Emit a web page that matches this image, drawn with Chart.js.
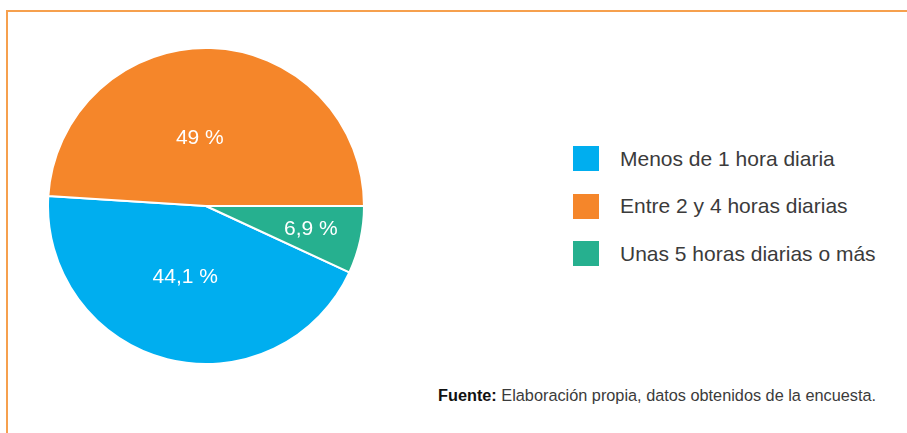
<!DOCTYPE html>
<html lang="es">
<head>
<meta charset="utf-8">
<title>Horas diarias</title>
<script src="https://cdn.jsdelivr.net/npm/chart.js@4.4.1/dist/chart.umd.min.js"></script>
<style>
    html, body {
        margin: 0;
        padding: 0;
        background: #fff;
        width: 907px;
        height: 433px;
        overflow: hidden;
        font-family: "Liberation Sans", Arial, sans-serif;
    }
    .frame {
        position: absolute;
        left: 6px;
        top: 10px;
        width: 899px;
        height: 430px;
        border-top: 2px solid #f6a04e;
        border-left: 2px solid #f6a04e;
    }
    .pie-box {
        position: absolute;
        left: 47px;
        top: 47px;
        width: 318px;
        height: 318px;
    }
    .legend {
        position: absolute;
        left: 573px;
        top: 146px;
        margin: 0;
        padding: 0;
        list-style: none;
    }
    .legend li {
        display: flex;
        align-items: center;
        height: 25px;
        margin-bottom: 22.5px;
        font-size: 21px;
        color: #3b3b3b;
    }
    .legend .box {
        display: inline-block;
        width: 26px;
        height: 25px;
        margin-right: 21px;
    }
    .source {
        position: absolute;
        left: 438px;
        top: 386px;
        font-size: 16.3px;
        color: #3b3b3b;
        white-space: nowrap;
    }
    .source b {
        color: #111;
    }
</style>
</head>
<body>
<div class="frame"></div>
<div class="pie-box"><canvas id="chart"></canvas></div>
<ul class="legend" id="legend"></ul>
<div class="source"><b>Fuente:</b> Elaboración propia, datos obtenidos de la encuesta.</div>

<script>
// Categories and values
const categories = ['Menos de 1 hora diaria', 'Entre 2 y 4 horas diarias', 'Unas 5 horas diarias o más'];
const values = [44.1, 49, 6.9];
const valueLabels = ['44,1 %', '49 %', '6,9 %'];
const colors = ['#00aeef', '#f5862a', '#26b08f'];

/**
 * Draws the percentage text inside each slice.
 */
const sliceLabels = {
    id: 'sliceLabels',
    afterDatasetsDraw(chart, args, opts) {
        const ctx = chart.ctx;
        const meta = chart.getDatasetMeta(0);
        ctx.save();
        ctx.fillStyle = '#fff';
        ctx.font = '21px "Liberation Sans", Arial, sans-serif';
        ctx.textAlign = 'center';
        ctx.textBaseline = 'middle';
        meta.data.forEach((arc, i) => {
            const p = arc.getProps(['x', 'y', 'startAngle', 'endAngle', 'outerRadius'], true);
            // label sits a little off the bisector for the big slices
            const mid = (p.startAngle + p.endAngle) / 2 + opts.shift[i] * Math.PI / 180;
            const r = p.outerRadius * opts.radius[i];
            ctx.fillText(valueLabels[i], p.x + Math.cos(mid) * r, p.y + Math.sin(mid) * r);
        });
        ctx.restore();
    }
};

// Legend built as plain markup
const legend = document.getElementById('legend');
categories.forEach((label, i) => {
    const li = document.createElement('li');
    li.innerHTML = `<span class="box" style="background:${colors[i]}"></span>${label}`;
    legend.append(li);
});

// the blue slice starts where the small green one ends
const rotation = 90 + values[2] * 3.6;

new Chart(document.getElementById('chart').getContext('2d'), {
    type: 'pie',
    data: {
        labels: categories,
        datasets: [{
            data: values,
            backgroundColor: colors,
            borderColor: '#fff',
            borderWidth: 2
        }]
    },
    options: {
        responsive: true,
        maintainAspectRatio: false,
        animation: false,
        rotation: rotation,
        layout: { padding: 0 },
        plugins: {
            legend: { display: false },
            tooltip: { enabled: false },
            sliceLabels: { radius: [0.47, 0.43, 0.68], shift: [2, -7, 0] }
        }
    },
    plugins: [sliceLabels]
});
</script>
</body>
</html>
